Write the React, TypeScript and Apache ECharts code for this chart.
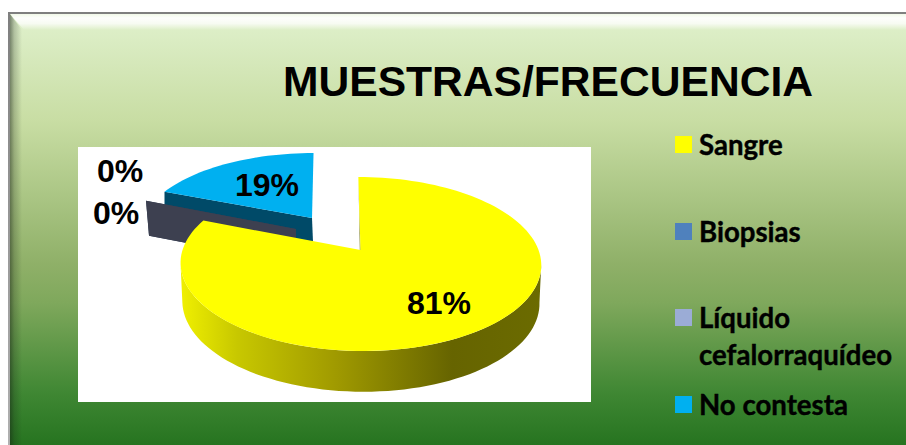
import React, { useEffect, useRef } from "react";
import * as echarts from "echarts";

const titleText = "MUESTRAS/FRECUENCIA";
const categories = ["Sangre", "Biopsias", "Líquido cefalorraquídeo", "No contesta"];
const percentValues = [81, 0, 0, 19];
const legendColors = ["#ffff00", "#4f81bd", "#9bacd6", "#00b0f0"];

const total = percentValues.reduce((a, b) => a + b, 0);
const before = percentValues.map((_, i) => percentValues.slice(0, i).reduce((a, b) => a + b, 0));

// Perspective disc projection
const A = 178, B = 84.75, P = 0.161;
const SAMPLES = 160;

type SliceLook = {
  apex: [number, number];
  scale: number;
  scaleX: number;
  depth: number;
  shear: number;
  top: string;
  wall: string;
  labelAt: [number, number];
  z: number;
};

const looks: SliceLook[] = [
  { apex: [360.5, 250], scale: 1, scaleX: 1, depth: 38, shear: -2.5, top: "#ffff00", wall: "#6a6a00", labelAt: [439, 303], z: 6 },
  { apex: [296, 229], scale: 0.96, scaleX: 1, depth: 35, shear: 0, top: "#2f3f5c", wall: "#2f3f5c", labelAt: [120, 171], z: 3 },
  { apex: [296, 229], scale: 0.96, scaleX: 1, depth: 35, shear: 0, top: "#3d4050", wall: "#3d4050", labelAt: [116, 213], z: 4 },
  { apex: [312, 218], scale: 0.89, scaleX: 1.065, depth: 24, shear: 2, top: "#00b0f0", wall: "#004a68", labelAt: [267, 185], z: 2 },
];

function project(apex: [number, number], a: number, b: number, scale: number, shear: number, th: number): number[] {
  const s = 1 / (1 + P * Math.cos(th));
  return [apex[0] + (a * Math.sin(th) + shear * Math.cos(th)) * s * scale, apex[1] - b * Math.cos(th) * s * scale];
}

function sideGradient() {
  return new echarts.graphic.LinearGradient(0, 0, 1, 0, [
    { offset: 0, color: "#f0f000" },
    { offset: 0.155, color: "#c8c800" },
    { offset: 0.43, color: "#a09a00" },
    { offset: 0.753, color: "#666400" },
    { offset: 1, color: "#6b6b00" },
  ]);
}

function renderSlice(index: number) {
  const look = looks[index];
  return (_params: any, api: any) => {
    const value = api.value(0);
    const start = (api.value(1) / total) * Math.PI * 2;
    const end = start + (value / total) * Math.PI * 2;
    const children: any[] = [];
    const { apex, scale, scaleX, depth, shear } = look;
    const baseApex: [number, number] = [apex[0], apex[1] + depth];
    const baseB = B * 1.027;
    const baseA = A * 0.99;
    const arc = (ap: [number, number], a: number, b: number, sh: number, from: number, to: number) => {
      const pts: number[][] = [];
      const n = Math.max(1, Math.round((SAMPLES * (to - from)) / (Math.PI * 2)));
      for (let i = 0; i <= n; i++) pts.push(project(ap, a, b, scale, sh, from + ((to - from) * i) / n));
      return pts;
    };

    if (value === 0) {
      const o = project(apex, A, B, scale, shear, start);
      const oB = project(baseApex, A, B, scale, shear, start);
      children.push({
        type: "polygon",
        z2: 1,
        shape: { points: [apex, o, [oB[0] + 3, oB[1]], baseApex] },
        style: { fill: look.wall },
      });
    } else if (index === 0) {
      const t0 = project(apex, A, B, scale, shear, start);
      const b0 = project(baseApex, A, B, scale, shear + 1, start);
      children.push({
        type: "polygon",
        z2: 1,
        shape: { points: [t0, apex, baseApex, b0] },
        style: { fill: look.wall },
      });
      // Outer wall: only the part between the two silhouette tangents is visible
      const tangent = Math.acos(-P);
      const sideFrom = Math.max(start, tangent);
      const sideTo = Math.min(end, Math.PI * 2 - tangent);
      children.push({
        type: "polygon",
        z2: 2,
        shape: {
          points: [
            ...arc(apex, A, B, shear, sideFrom, sideTo),
            ...arc(baseApex, baseA, baseB, shear, sideFrom, sideTo).reverse(),
          ],
        },
        style: { fill: sideGradient() },
      });
      children.push({
        type: "polygon",
        z2: 3,
        shape: { points: [apex, ...arc(apex, A, B, shear, start, end)] },
        style: { fill: look.top },
      });
    } else {
      const topPts = arc(apex, A * scaleX, B, shear, start, end);
      const o = topPts[0];
      children.push({
        type: "polygon",
        z2: 1,
        shape: { points: [apex, o, [o[0], o[1] + depth], [apex[0] + 1, apex[1] + depth]] },
        style: { fill: look.wall },
      });
      children.push({
        type: "polygon",
        z2: 2,
        shape: { points: [apex, ...topPts] },
        style: { fill: look.top },
      });
    }

    children.push({
      type: "text",
      z2: 5,
      x: look.labelAt[0],
      y: look.labelAt[1],
      style: {
        text: `${Math.round((value / total) * 100)}%`,
        fontFamily: "Liberation Sans",
        fontWeight: "bold",
        fontSize: 32,
        fill: "#000000",
        align: "center",
        verticalAlign: "middle",
      },
    });
    return { type: "group", children };
  };
}

const legendTops = [126, 213, 299, 386];
const legendFormatter = (name: string) => (name === categories[2] ? "Líquido\ncefalorraquídeo" : name);
// Marker sits on the first line of the two-line legend entry
const tallIcon = "path://M0 0L0 0ZM0 10H17V27H0ZM0 74L0 74Z";

export default function App() {
  const ref = useRef<HTMLDivElement>(null);
  useEffect(() => {
    document.body.style.margin = "0";
    document.body.style.overflow = "hidden";
    const chart = echarts.init(ref.current!, undefined, { renderer: "svg" });
    chart.setOption({
      animation: false,
      backgroundColor: "#ffffff",
      title: {
        text: titleText,
        left: 283,
        top: 59,
        padding: 0,
        textStyle: { fontFamily: "Liberation Sans", fontWeight: "bold", fontSize: 42.6, color: "#000000" },
      },
      legend: categories.map((name, i) => ({
        data: [name],
        left: 675,
        top: legendTops[i],
        padding: 0,
        itemWidth: 17,
        itemHeight: i === 2 ? 74 : 17,
        itemGap: 0,
        icon: i === 2 ? tallIcon : "rect",
        selectedMode: false,
        formatter: legendFormatter,
        textStyle: {
          fontFamily: "Lato",
          fontWeight: "bold",
          fontSize: 27.6,
          lineHeight: 37,
          color: "#000000",
          textBorderColor: "#000000",
          textBorderWidth: 0.4,
          padding: [0, 0, 0, 2],
        },
      })),
      graphic: [
        {
          type: "rect",
          z: 0,
          silent: true,
          shape: { x: 8, y: 12, width: 898, height: 433 },
          style: {
            fill: new echarts.graphic.LinearGradient(0, 0, 0, 1, [
              { offset: 0, color: "#7f7f7f" },
              { offset: 1, color: "#b0b0b0" },
            ]),
          },
        },
        {
          type: "rect",
          z: 0,
          silent: true,
          shape: { x: 10, y: 14, width: 896, height: 431 },
          style: {
            fill: new echarts.graphic.LinearGradient(0, 0, 0, 1, [
              { offset: 0, color: "#e0f1cd" },
              { offset: 0.25, color: "#c8dda3" },
              { offset: 0.58, color: "#8fb068" },
              { offset: 0.67, color: "#7fa85c" },
              { offset: 0.88, color: "#3f8733" },
              { offset: 1, color: "#267420" },
            ]),
          },
        },
        {
          type: "polygon",
          z: 0,
          silent: true,
          shape: { points: [[10, 14], [906, 14], [906, 30], [24, 30]] },
          style: {
            fill: new echarts.graphic.LinearGradient(0, 0, 0, 1, [
              { offset: 0, color: "rgba(255,255,255,0.55)" },
              { offset: 0.25, color: "rgba(255,255,255,0.95)" },
              { offset: 0.6, color: "rgba(255,255,255,0.75)" },
              { offset: 1, color: "rgba(255,255,255,0)" },
            ]),
          },
        },
        {
          type: "polygon",
          z: 0,
          silent: true,
          shape: { points: [[10, 14], [22, 30], [22, 445], [10, 445]] },
          style: {
            fill: new echarts.graphic.LinearGradient(0, 0, 1, 0, [
              { offset: 0, color: "rgba(20,30,20,0.5)" },
              { offset: 0.35, color: "rgba(20,30,20,0.22)" },
              { offset: 1, color: "rgba(20,30,20,0)" },
            ]),
          },
        },
        {
          type: "rect",
          z: 1,
          silent: true,
          shape: { x: 78, y: 147, width: 513, height: 255 },
          style: { fill: "#ffffff" },
        },
      ],
      series: categories.map((name, i) => ({
        type: "custom",
        name,
        coordinateSystem: "none",
        silent: true,
        z: looks[i].z,
        itemStyle: { color: legendColors[i] },
        renderItem: renderSlice(i),
        data: [[percentValues[i], before[i]]],
      })),
    });
    return () => chart.dispose();
  }, []);
  return <div ref={ref} style={{ width: 906, height: 445 }} />;
}
